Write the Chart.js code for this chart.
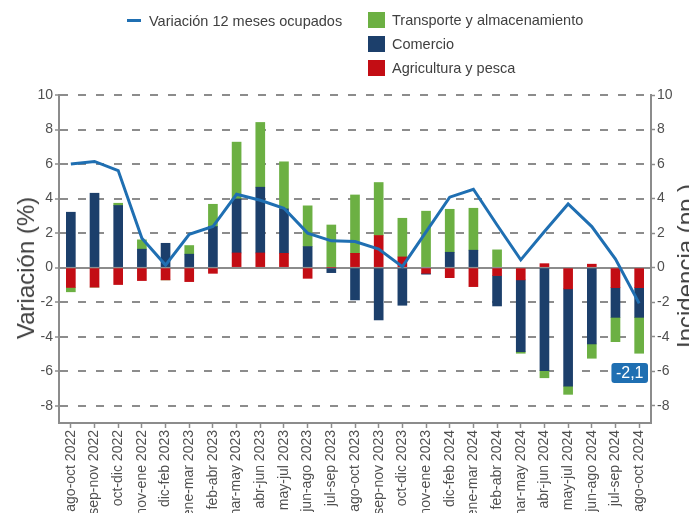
<!DOCTYPE html>
<html>
<head>
<meta charset="utf-8">
<script src="https://cdn.jsdelivr.net/npm/chart.js@4"></script>
<style>
  html, body { margin: 0; padding: 0; background: #fff; overflow: hidden; }
  #wrap { position: relative; width: 689px; height: 513px; overflow: hidden; font-family: "Liberation Sans", Arial, sans-serif; }
  canvas { position: absolute; left: 0; top: 0; }
  .lg { position: absolute; font-size: 14.5px; color: #404040; white-space: nowrap; line-height: 16px; }
  .sw { position: absolute; }
  .atitle { position: absolute; transform: translate(-50%, -50%) rotate(-90deg);
            font-size: 24px; line-height: 24px; color: #404040; white-space: nowrap; }
</style>
</head>
<body>
<div id="wrap">
  <canvas id="c" width="689" height="513"></canvas>
  <div class="sw" style="left:127px;top:19px;width:14px;height:3px;background:#1f6fb2"></div>
  <div class="lg" style="left:149px;top:13px">Variación 12 meses ocupados</div>
  <div class="sw" style="left:368px;top:12px;width:17px;height:16px;background:#6cb043"></div>
  <div class="lg" style="left:392px;top:12px">Transporte y almacenamiento</div>
  <div class="sw" style="left:368px;top:36px;width:17px;height:16px;background:#1c3f6b"></div>
  <div class="lg" style="left:392px;top:36px">Comercio</div>
  <div class="sw" style="left:368px;top:60px;width:17px;height:16px;background:#c30d14"></div>
  <div class="lg" style="left:392px;top:60px">Agricultura y pesca</div>
  <div class="atitle" style="left:26px;top:268px">Variación (%)</div>
  <div class="atitle" style="left:686px;top:266px">Incidencia (pp.)</div>
</div>
<script>
const categories = ['ago-oct 2022','sep-nov 2022','oct-dic 2022','nov-ene 2022','dic-feb 2023','ene-mar 2023','feb-abr 2023','mar-may 2023','abr-jun 2023','may-jul 2023','jun-ago 2023','jul-sep 2023','ago-oct 2023','sep-nov 2023','oct-dic 2023','nov-ene 2023','dic-feb 2024','ene-mar 2024','feb-abr 2024','mar-may 2024','abr-jun 2024','may-jul 2024','jun-ago 2024','jul-sep 2024','ago-oct 2024'];
const agricultura = [-1.15,-1.13,-0.98,-0.75,-0.71,-0.81,-0.33,0.85,0.85,0.83,-0.62,0,0.83,1.86,0.62,-0.33,-0.58,-1.10,-0.46,-0.71,0.23,-1.23,0.20,-1.16,-1.16];
const comercio = [3.21,4.31,3.60,1.07,1.41,0.78,2.38,3.13,3.81,2.57,1.22,-0.29,-1.87,-3.03,-2.18,-0.05,0.89,1.01,-1.76,-4.16,-5.97,-5.63,-4.42,-1.72,-1.72];
const transporte = [-0.25,0,0.13,0.54,0,0.50,1.29,3.29,3.75,2.73,2.36,2.47,3.38,3.07,2.24,3.27,2.49,2.43,1.03,-0.09,-0.41,-0.48,-0.83,-1.41,-2.08];
const variacion = [6.00,6.15,5.62,1.70,0.15,1.93,2.38,4.25,3.90,3.44,2.00,1.55,1.51,1.07,0.06,2.07,4.08,4.54,2.47,0.45,2.09,3.69,2.38,0.50,-2.07];
const yTicks = [-8,-6,-4,-2,0,2,4,6,8,10];
const yMin = -9, yMax = 10;

const FONT = '"Liberation Sans", Arial, sans-serif';
const GRID = '#8c8c8c';
const TXT = '#505050';

const lastLabel = {
  id: 'lastLabel',
  afterDatasetsDraw(chart) {
    const {ctx, chartArea, scales} = chart;
    const v = variacion[variacion.length - 1];
    const txt = v.toFixed(1).replace('.', ',');
    ctx.save();
    ctx.font = '16px ' + FONT;
    const w = ctx.measureText(txt).width + 9;
    const h = 20;
    const right = chartArea.right - 3;
    const cy = scales.y.getPixelForValue(-6.1);
    const x = right - w, y = cy - h / 2, r = 3;
    ctx.fillStyle = '#1f6fb2';
    ctx.beginPath();
    ctx.moveTo(x + r, y);
    ctx.lineTo(x + w - r, y); ctx.quadraticCurveTo(x + w, y, x + w, y + r);
    ctx.lineTo(x + w, y + h - r); ctx.quadraticCurveTo(x + w, y + h, x + w - r, y + h);
    ctx.lineTo(x + r, y + h); ctx.quadraticCurveTo(x, y + h, x, y + h - r);
    ctx.lineTo(x, y + r); ctx.quadraticCurveTo(x, y, x + r, y);
    ctx.fill();
    ctx.fillStyle = '#fff';
    ctx.textAlign = 'center';
    ctx.textBaseline = 'middle';
    ctx.fillText(txt, x + w / 2, cy + 1);
    ctx.restore();
  }
};

const setTicks = (scale) => { scale.ticks = yTicks.map(v => ({ value: v })); };

new Chart(document.getElementById('c'), {
  type: 'bar',
  data: {
    labels: categories,
    datasets: [
      { type: 'line', label: 'Variación 12 meses ocupados', data: variacion, yAxisID: 'y2',
        borderColor: '#1f6fb2', borderWidth: 3, pointRadius: 0, tension: 0, order: 0, fill: false },
      { label: 'Agricultura y pesca', data: agricultura, backgroundColor: '#c30d14', yAxisID: 'y', order: 1, barThickness: 9 },
      { label: 'Comercio', data: comercio, backgroundColor: '#1c3f6b', yAxisID: 'y', order: 1, barThickness: 9 },
      { label: 'Transporte y almacenamiento', data: transporte, backgroundColor: '#6cb043', yAxisID: 'y', order: 1, barThickness: 9 }
    ]
  },
  options: {
    responsive: false,
    animation: false,
    layout: { padding: { top: 95, left: 0, right: 0, bottom: 0 } },
    plugins: { legend: { display: false }, tooltip: { enabled: false } },
    scales: {
      x: {
        stacked: true,
        grid: { display: true, drawOnChartArea: false, drawTicks: true, tickLength: 5, offset: false, tickColor: GRID, tickWidth: 1.5 },
        border: { display: true, color: GRID, width: 2 },
        ticks: { autoSkip: false, minRotation: 90, maxRotation: 90, padding: 2, color: TXT, font: { family: FONT, size: 14 } },
        afterFit: (s) => { s.height = 90; }
      },
      y: {
        stacked: true,
        position: 'left',
        min: yMin, max: yMax,
        afterBuildTicks: setTicks,
        grid: {
          color: GRID, lineWidth: 2,
          drawTicks: true, tickLength: 4, tickColor: GRID, tickWidth: 1.5, tickBorderDash: []
        },
        border: {
          display: true, color: GRID, width: 2,
          dash: (ctx) => (ctx.tick && ctx.tick.value !== 0) ? [8, 10] : []
        },
        ticks: { padding: 2, color: TXT, font: { family: FONT, size: 14 }, callback: (v) => String(v) },
        title: { display: false },
        afterFit: (s) => { s.width = 59; }
      },
      y2: {
        position: 'right',
        min: yMin, max: yMax,
        afterBuildTicks: setTicks,
        grid: { drawOnChartArea: false, drawTicks: true, tickLength: 4, tickColor: GRID, tickWidth: 1.5 },
        border: { display: true, color: GRID, width: 2 },
        ticks: { padding: 2, color: TXT, font: { family: FONT, size: 14 }, callback: (v) => String(v) },
        title: { display: false },
        afterFit: (s) => { s.width = 38; }
      }
    }
  },
  plugins: [lastLabel]
});
</script>
</body>
</html>
